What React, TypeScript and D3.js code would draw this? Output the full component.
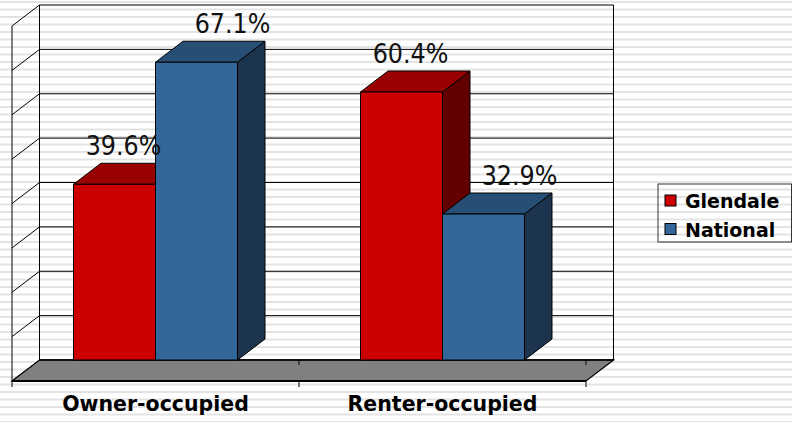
import React from "react";
import * as d3 from "d3";

// --- Data ---
const CATEGORIES = ["Owner-occupied", "Renter-occupied"];
const SERIES = ["Glendale", "National"];
const GLENDALE = [39.6, 60.4];
const NATIONAL = [67.1, 32.9];
const Y_TICKS = [0, 10, 20, 30, 40, 50, 60, 70, 80];

// --- Layout ---
const W = 792;
const H = 422;
const DX = 27.5; // 3D depth, horizontal
const DY = 21; // 3D depth, vertical
const FRONT_LEFT = 12;
const FRONT_RIGHT = 586;

const COLORS: Record<string, { front: string; top: string; side: string }> = {
  Glendale: { front: "#cc0000", top: "#990000", side: "#620000" },
  National: { front: "#336699", top: "#274e75", side: "#1c344e" },
};
const LABEL_SHIFT: Record<string, number> = { Glendale: 9, National: 36 };

export default function App() {
  const values = [GLENDALE, NATIONAL];

  const y = d3.scaleLinear().domain([0, 80]).range([360, 5]);
  const x = d3
    .scaleBand<string>()
    .domain(CATEGORIES)
    .range([FRONT_LEFT, FRONT_RIGHT]);
  const barW = x.bandwidth() * 0.2857;

  const wallLeft = FRONT_LEFT + DX;
  const wallRight = FRONT_RIGHT + DX;
  const base = y(0);

  const poly = (pts: [number, number][]) =>
    pts.map((p) => p.join(",")).join(" ");

  const innerScale = (cat: string) => {
    const center = (x(cat) as number) + x.bandwidth() / 2;
    return d3
      .scaleBand<string>()
      .domain(SERIES)
      .range([center - barW, center + barW]);
  };

  return (
    <div style={{ position: "absolute", left: 0, top: 0 }}>
      <svg width={W} height={H} style={{ display: "block" }}>
        <defs>
          <pattern id="stripes" width={8} height={15} patternUnits="userSpaceOnUse">
            <rect width={8} height={15} fill="#ffffff" />
            <rect y={1} width={8} height={2} fill="#e3e3e3" />
            <rect y={8.5} width={8} height={2} fill="#e3e3e3" />
          </pattern>
        </defs>
        <rect width={W} height={H} fill="url(#stripes)" />

        {/* Left side wall */}
        <g stroke="#000" strokeWidth={1} fill="none">
          {Y_TICKS.map((t) => (
            <line
              key={"s" + t}
              x1={FRONT_LEFT}
              y1={y(t) + DY}
              x2={wallLeft}
              y2={y(t)}
            />
          ))}
          <line x1={FRONT_LEFT} y1={y(80) + DY} x2={FRONT_LEFT} y2={base + DY} />
          {/* Back wall */}
          {Y_TICKS.map((t) => (
            <line key={"g" + t} x1={wallLeft} y1={y(t)} x2={wallRight} y2={y(t)} />
          ))}
          <line x1={wallLeft} y1={y(80)} x2={wallLeft} y2={base} />
          <line x1={wallRight} y1={y(80)} x2={wallRight} y2={base} />
        </g>

        {/* Floor */}
        <polygon
          points={poly([
            [FRONT_LEFT, base + DY],
            [wallLeft, base],
            [wallRight, base],
            [FRONT_RIGHT, base + DY],
          ])}
          fill="#808080"
          stroke="#000"
          strokeWidth={1.2}
        />
        <line x1={FRONT_LEFT} y1={base + DY} x2={FRONT_RIGHT} y2={base + DY} stroke="#000" strokeWidth={2} />
        <line x1={wallLeft} y1={base} x2={wallRight} y2={base} stroke="#000" strokeWidth={1.5} />
        {[...CATEGORIES.map((c) => x(c) as number), FRONT_RIGHT].map((tx, i) => (
          <g key={"t" + i} stroke="#000" strokeWidth={1}>
            <line x1={tx} y1={base + DY} x2={tx} y2={base + DY + 6} />
            {i > 0 && <line x1={tx} y1={base} x2={tx} y2={base + 5} />}
          </g>
        ))}

        {/* Bars */}
        {CATEGORIES.map((cat, ci) => {
          const inner = innerScale(cat);
          return (
            <g key={cat}>
              {SERIES.map((s, si) => {
                const v = values[si][ci];
                const x0 = inner(s) as number;
                const x1 = x0 + inner.bandwidth();
                const yt = y(v);
                const c = COLORS[s];
                return (
                  <g key={s} stroke="#000" strokeWidth={1} strokeLinejoin="round">
                    <polygon
                      points={poly([
                        [x1, base],
                        [x1 + DX, base - DY],
                        [x1 + DX, yt - DY],
                        [x1, yt],
                      ])}
                      fill={c.side}
                    />
                    <polygon
                      points={poly([
                        [x0, yt],
                        [x0 + DX, yt - DY],
                        [x1 + DX, yt - DY],
                        [x1, yt],
                      ])}
                      fill={c.top}
                    />
                    <rect x={x0} y={yt} width={x1 - x0} height={base - yt} fill={c.front} />
                  </g>
                );
              })}
            </g>
          );
        })}

        {/* Value labels */}
        {CATEGORIES.map((cat, ci) => {
          const inner = innerScale(cat);
          return SERIES.map((s, si) => {
            const v = values[si][ci];
            const cx = (inner(s) as number) + inner.bandwidth() / 2 + LABEL_SHIFT[s];
            return (
              <g key={cat + s} transform={`translate(${cx},${y(v) - 29}) scale(0.9,1)`}>
                <text
                  textAnchor="middle"
                  fontFamily="DejaVu Sans"
                  fontSize={26.5}
                  fill="#111"
                >
                  {v.toFixed(1)}%
                </text>
              </g>
            );
          });
        })}

        {/* Category labels */}
        {CATEGORIES.map((cat) => (
          <text
            key={cat}
            x={(x(cat) as number) + x.bandwidth() / 2}
            y={411}
            textAnchor="middle"
            fontFamily="DejaVu Sans"
            fontWeight="bold"
            fontSize={20.5}
            fill="#000"
          >
            {cat}
          </text>
        ))}

        {/* Legend */}
        <g>
          <rect x={658} y={184} width={133.5} height={58} fill="none" stroke="#333" strokeWidth={1} />
          {SERIES.map((s, i) => (
            <g key={s} transform={`translate(665,${195 + i * 28.5})`}>
              <rect width={11} height={11} fill={COLORS[s].front} stroke="#000" strokeWidth={1} />
              <text
                x={20}
                y={13}
                fontFamily="DejaVu Sans"
                fontWeight="bold"
                fontSize={19}
                fill="#000"
              >
                {s}
              </text>
            </g>
          ))}
        </g>
      </svg>
    </div>
  );
}
